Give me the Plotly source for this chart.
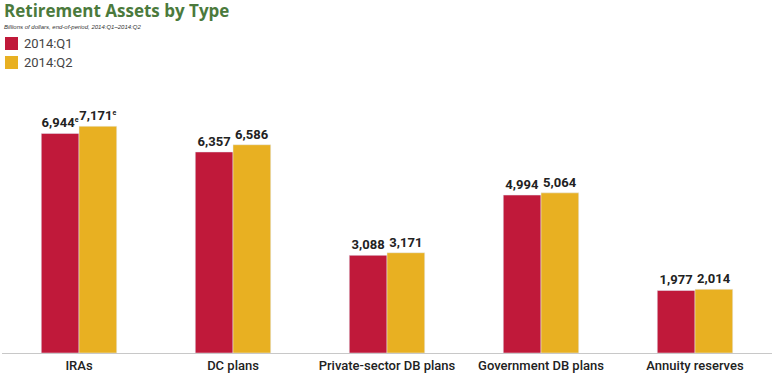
import plotly.graph_objects as go

categories = ["IRAs", "DC plans", "Private-sector DB plans", "Government DB plans", "Annuity reserves"]
q1_values = [6944, 6357, 3088, 4994, 1977]
q2_values = [7171, 6586, 3171, 5064, 2014]
SUP_E = "<sup><span style='font-size:7px'>e</span></sup>"
q1_labels = ["6,944" + SUP_E, "6,357", "3,088", "4,994", "1,977"]
q2_labels = ["7,171" + SUP_E, "6,586", "3,171", "5,064", "2,014"]
series_names = ["2014:Q1", "2014:Q2"]

RED = "#c0193a"
YELLOW = "#e8b022"
colors = [RED, YELLOW]

fig = go.Figure()
for vals, labels, name, col in [(q1_values, q1_labels, series_names[0], RED),
                                (q2_values, q2_labels, series_names[1], YELLOW)]:
    fig.add_trace(go.Bar(x=categories, y=vals, name=name, marker_color=col,
                         text=labels, textposition="outside", cliponaxis=False,
                         textfont=dict(family="Roboto", size=13, color="#222", weight="bold")))

# manual legend (paper coords; plot area is y 100..353 px, x 2..772 px)
shapes = []
annotations = []
leg_rows = [(1.1976, 1.249, 1.2233), (1.1225, 1.1739, 1.1482)]
for (y0, y1, yt), name, col in zip(leg_rows, series_names, colors):
    shapes.append(dict(type="rect", xref="paper", yref="paper", x0=0.0039, x1=0.0208, y0=y0, y1=y1,
                       fillcolor=col, line=dict(width=0)))
    annotations.append(dict(text=name, x=0.026, y=yt, xref="paper", yref="paper", xanchor="left",
                            yanchor="middle", showarrow=False,
                            font=dict(family="Roboto", size=13, color="#444")))

annotations.append(dict(text="<b>Retirement Assets by Type</b>", x=0.0, y=1.3518, xref="paper", yref="paper",
                        xanchor="left", yanchor="middle", showarrow=False,
                        font=dict(family="Open Sans", size=17, color="#4b7a3c")))
annotations.append(dict(text="<i>Billions of dollars, end-of-period, 2014:Q1–2014:Q2</i>", x=0.0, y=1.2885,
                        xref="paper", yref="paper", xanchor="left", yanchor="middle",
                        showarrow=False, font=dict(family="Liberation Sans", size=6, color="#333")))

fig.update_layout(
    width=780, height=385,
    margin=dict(l=2, r=8, t=100, b=32),
    paper_bgcolor="white", plot_bgcolor="white",
    barmode="group", bargap=0.51, bargroupgap=0,
    showlegend=False,
    xaxis=dict(showline=True, linecolor="#c8c8c8", linewidth=1, ticks="", automargin=False,
               tickfont=dict(family="Roboto", size=13, color="#222", weight=500)),
    yaxis=dict(range=[0, 8000], visible=False, showgrid=False),
    shapes=shapes,
    annotations=annotations,
)

fig.write_html("out.html", config={"displayModeBar": False},
               post_script="document.body.style.margin='0';document.body.style.padding='0';")
